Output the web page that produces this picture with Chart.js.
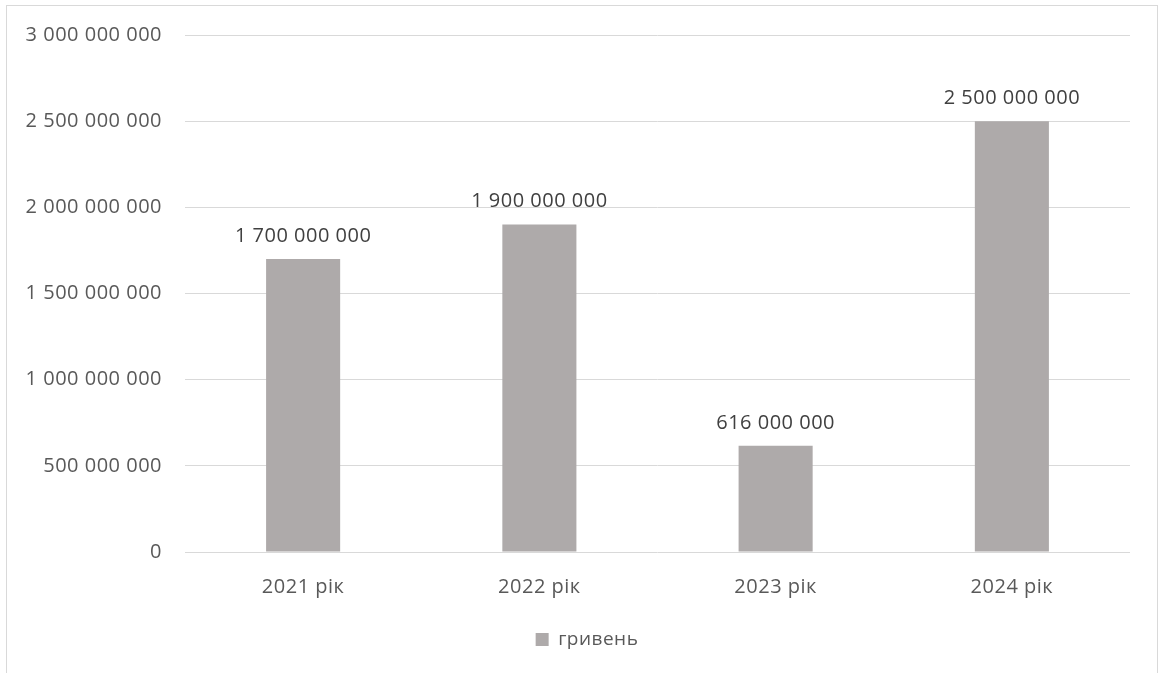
<!DOCTYPE html>
<html>
<head>
<meta charset="utf-8">
<script src="https://cdn.jsdelivr.net/npm/chart.js@4/dist/chart.umd.min.js"></script>
<style>
  html, body { margin: 0; padding: 0; background: #ffffff; }
  body { width: 1160px; height: 673px; position: relative; overflow: hidden; }
  #frame { position: absolute; left: 6px; top: 5px; width: 1152px; height: 700px; border: 1px solid #d9d9d9; box-sizing: border-box; }
  #wrap { position: absolute; left: 0; top: 0; width: 1160px; height: 673px; }
</style>
</head>
<body>
<div id="frame"></div>
<div id="wrap"><canvas id="chart" width="1160" height="673"></canvas></div>
<script>
// Річні обсяги, гривень
const categories = ['2021 рік', '2022 рік', '2023 рік', '2024 рік'];
const values = [1700000000, 1900000000, 616000000, 2500000000];
const seriesName = 'гривень';
const yTicks = [0, 500000000, 1000000000, 1500000000, 2000000000, 2500000000, 3000000000];

const FONT = "'Open Sans', 'Noto Sans', sans-serif";
const TEXT = '#595959';
const GRID = '#d9d9d9';
const BAR = '#aeaaaa';
const SPACING = '0.5px';

function fmt(v) {
  return String(v).replace(/\B(?=(\d{3})+(?!\d))/g, ' ');
}

// Spacing between glyphs, applied to every text drawn on the canvas
const spacingPlugin = {
  id: 'spacing',
  beforeInit(chart) { chart.ctx.letterSpacing = SPACING; },
  beforeUpdate(chart) { chart.ctx.letterSpacing = SPACING; },
  beforeDraw(chart) { chart.ctx.letterSpacing = SPACING; }
};

// Centre the legend under the whole frame rather than the padded box
const legendShift = {
  id: 'legendShift',
  afterLayout(chart) {
    if (chart.legend) {
      chart.legend.left += 22;
      chart.legend.right += 22;
    }
  }
};

// Value labels above each bar
const valueLabels = {
  id: 'valueLabels',
  afterDatasetsDraw(chart) {
    const ctx = chart.ctx;
    const meta = chart.getDatasetMeta(0);
    ctx.save();
    ctx.letterSpacing = SPACING;
    ctx.font = "20px " + FONT;
    ctx.fillStyle = '#404040';
    ctx.textAlign = 'center';
    ctx.textBaseline = 'middle';
    meta.data.forEach((bar, i) => {
      ctx.fillText(fmt(chart.data.datasets[0].data[i]), bar.x, bar.y - 23);
    });
    ctx.restore();
  }
};

new Chart(document.getElementById('chart'), {
  type: 'bar',
  data: {
    labels: categories,
    datasets: [{
      label: seriesName,
      data: values,
      backgroundColor: BAR,
      borderWidth: 0,
      categoryPercentage: 1,
      barPercentage: 0.3135
    }]
  },
  options: {
    responsive: false,
    animation: false,
    devicePixelRatio: 1,
    layout: { padding: { left: 0, right: 30, top: 32, bottom: 14 } },
    plugins: {
      tooltip: { enabled: false },
      legend: {
        position: 'bottom',
        labels: {
          color: TEXT,
          font: { family: FONT, size: 19 },
          boxWidth: 13,
          boxHeight: 13,
          padding: 10
        }
      }
    },
    scales: {
      x: {
        grid: { display: false, drawTicks: false },
        border: { display: false },
        ticks: { color: TEXT, font: { family: FONT, size: 20 }, padding: 23 },
        afterFit(s) { s.height = 68; }
      },
      y: {
        min: 0,
        max: 3000000000,
        afterBuildTicks(s) { s.ticks = yTicks.map(v => ({ value: v })); },
        grid: { color: GRID, lineWidth: 1, drawTicks: false },
        border: { display: false },
        ticks: {
          color: TEXT,
          font: { family: FONT, size: 20 },
          padding: 23,
          callback: (v) => fmt(v)
        },
        afterFit(s) { s.width = 185; }
      }
    }
  },
  plugins: [spacingPlugin, legendShift, valueLabels]
});
</script>
</body>
</html>
